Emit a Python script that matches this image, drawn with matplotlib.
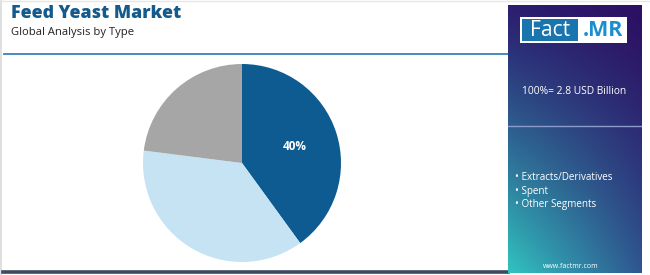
import numpy as np
import matplotlib
matplotlib.use("Agg")
import matplotlib.pyplot as plt
from matplotlib.patches import Rectangle
from matplotlib.colors import to_rgb

# ---- data ----
segments = ["Extracts/Derivatives", "Spent", "Other Segments"]
shares = [40, 37, 23]
slice_colors = ["#0d5b91", "#c6e3f4", "#a6a6a6"]
title = "Feed Yeast Market"
subtitle = "Global Analysis by Type"
total_label = "100%= 2.8 USD Billion"
website = "www.factmr.com"

W, H = 650, 275
fig = plt.figure(figsize=(W / 100, H / 100), dpi=100)
fig.patch.set_facecolor("white")
FONT = "Open Sans"

def px(x, y, w, h):
    return [x / W, 1 - (y + h) / H, w / W, h / H]

# background overlay axes
bg = fig.add_axes([0, 0, 1, 1])
bg.set_xlim(0, W)
bg.set_ylim(H, 0)
bg.axis("off")
# left light border
bg.plot([1, 1], [0, H], color="#d9d9d9", lw=1.2)
bg.plot([0, W], [1, 1], color="#e6e6e6", lw=1.0)
# header separator line
bg.plot([4, 508], [54, 54], color="#3a80bd", lw=1.3)
# bottom dark line
bg.plot([3, 508], [272, 272], color="#3b4a61", lw=2.6)

# titles
bg.text(11, 14, title, fontsize=12.8, fontweight="heavy", color="#155a8c",
        family=FONT, va="center", ha="left")
bg.text(11, 32, subtitle, fontsize=8.1, color="#222222", family=FONT,
        va="center", ha="left")

# right gradient panel
pan = fig.add_axes(px(508, 5, 134, 268))
ny, nx = 200, 100
tl = np.array(to_rgb("#2b1f70"))
tr = np.array(to_rgb("#2c0f62"))
bl = np.array(to_rgb("#31c4c0"))
br = np.array(to_rgb("#2f5690"))
yy, xx = np.mgrid[0:1:ny * 1j, 0:1:nx * 1j]
yy = yy[..., None] ** 1.2
xx = xx[..., None]
img = (tl * (1 - xx) * (1 - yy) + tr * xx * (1 - yy) +
       bl * (1 - xx) * yy + br * xx * yy)
pan.imshow(img, aspect="auto", extent=[0, 134, 268, 0], interpolation="bilinear")
pan.set_xlim(0, 134)
pan.set_ylim(268, 0)
pan.axis("off")

# logo
ox, oy = 508, 5
pan.add_patch(Rectangle((520 - ox, 17 - oy), 107, 26, facecolor="white", edgecolor="none"))
pan.add_patch(Rectangle((522 - ox, 19 - oy), 56, 22, facecolor="#1a74ae", edgecolor="none"))
pan.text(550 - ox, 30.5 - oy, "Fact", color="white", fontsize=15.2, family=FONT,
         ha="center", va="center")
pan.text(603 - ox, 30.5 - oy, ".MR", color="#1a8fcf", fontsize=15.5, family=FONT,
         fontweight="bold", ha="center", va="center")

pan.text(574 - ox, 92 - oy, total_label, color="white", fontsize=7.4, family=FONT,
         ha="center", va="center")
pan.plot([0, 134], [126 - oy, 126 - oy], color="#8a9bcc", lw=1.0)
for i, s in enumerate(segments):
    pan.text(515 - ox, 178 - oy + i * 13.5, "\u2022 " + s, color="white", fontsize=7.1,
             family=FONT, ha="left", va="center")
pan.text(571 - ox, 266 - oy, website, color="white", fontsize=5, family=FONT,
         ha="center", va="center")

# pie
R = 99
cx, cy = 242, 163
pax = fig.add_axes(px(cx - 100, cy - 100, 200, 200))
wedges, _ = pax.pie(shares, colors=slice_colors, startangle=90, counterclock=False,
                    radius=R / 100, wedgeprops=dict(linewidth=0))
pax.set_xlim(-1, 1)
pax.set_ylim(-1, 1)
pax.set_aspect("equal")
pax.axis("off")
# label largest slice
ang = np.deg2rad(90 - shares[0] / 100 * 360 / 2)
rr = 0.55
pax.text(rr * np.cos(ang), rr * np.sin(ang), f"{shares[0]}%", color="white",
         fontsize=8.5, fontweight="bold", family=FONT, ha="center", va="center")

fig.savefig("out.png", dpi=100, facecolor="white")
